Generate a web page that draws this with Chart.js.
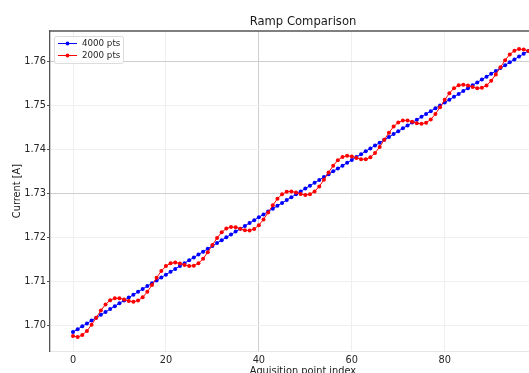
<!DOCTYPE html>
<html>
<head>
<meta charset="utf-8">
<title>Ramp Comparison</title>
<script src="https://cdn.jsdelivr.net/npm/chart.js@4.4.1/dist/chart.umd.min.js"></script>
<style>
    html, body { margin: 0; padding: 0; background: #ffffff; overflow: hidden; }
    #wrap { position: absolute; left: 0; top: 0; width: 560px; height: 390px; }
</style>
</head>
<body>
<div id="wrap"><canvas id="rampChart" width="560" height="390"></canvas></div>
<script>
// Données (index de point 0..99)
const current4000 = [
    1.69860, 1.69925, 1.69990, 1.70055, 1.70120, 1.70185, 1.70250, 1.70315, 1.70380, 1.70445,
    1.70510, 1.70575, 1.70640, 1.70705, 1.70770, 1.70835, 1.70900, 1.70965, 1.71030, 1.71095,
    1.71160, 1.71225, 1.71290, 1.71355, 1.71420, 1.71485, 1.71550, 1.71615, 1.71680, 1.71745,
    1.71810, 1.71875, 1.71940, 1.72005, 1.72070, 1.72135, 1.72200, 1.72265, 1.72330, 1.72395,
    1.72460, 1.72525, 1.72590, 1.72655, 1.72720, 1.72785, 1.72850, 1.72915, 1.72980, 1.73045,
    1.73110, 1.73175, 1.73240, 1.73305, 1.73370, 1.73435, 1.73500, 1.73565, 1.73630, 1.73695,
    1.73760, 1.73825, 1.73890, 1.73955, 1.74020, 1.74085, 1.74150, 1.74215, 1.74280, 1.74345,
    1.74410, 1.74475, 1.74540, 1.74605, 1.74670, 1.74735, 1.74800, 1.74865, 1.74930, 1.74995,
    1.75060, 1.75125, 1.75190, 1.75255, 1.75320, 1.75385, 1.75450, 1.75515, 1.75580, 1.75645,
    1.75710, 1.75775, 1.75840, 1.75905, 1.75970, 1.76035, 1.76100, 1.76165, 1.76230, 1.76295
];

const current2000 = [
    1.69770, 1.69745, 1.69790, 1.69885, 1.70023, 1.70185, 1.70347, 1.70485, 1.70580, 1.70625,
    1.70624, 1.70595, 1.70561, 1.70547, 1.70572, 1.70647, 1.70770, 1.70925, 1.71090, 1.71240,
    1.71354, 1.71419, 1.71435, 1.71415, 1.71380, 1.71355, 1.71362, 1.71417, 1.71522, 1.71666,
    1.71830, 1.71989, 1.72120, 1.72205, 1.72240, 1.72232, 1.72200, 1.72168, 1.72160, 1.72195,
    1.72280, 1.72411, 1.72570, 1.72734, 1.72878, 1.72983, 1.73038, 1.73045, 1.73020, 1.72985,
    1.72965, 1.72981, 1.73046, 1.73160, 1.73310, 1.73475, 1.73630, 1.73753, 1.73828, 1.73853,
    1.73839, 1.73805, 1.73776, 1.73775, 1.73820, 1.73915, 1.74053, 1.74215, 1.74377, 1.74515,
    1.74610, 1.74655, 1.74654, 1.74625, 1.74591, 1.74577, 1.74602, 1.74677, 1.74800, 1.74955,
    1.75120, 1.75270, 1.75384, 1.75449, 1.75465, 1.75445, 1.75410, 1.75385, 1.75392, 1.75447,
    1.75552, 1.75696, 1.75860, 1.76019, 1.76150, 1.76235, 1.76270, 1.76262, 1.76230, 1.76198
];

const seriesLabels = ['4000 pts', '2000 pts'];
const xTickValues = [0, 20, 40, 60, 80, 100];
const yTickValues = [1.70, 1.71, 1.72, 1.73, 1.74, 1.75, 1.76];

const toPoints = arr => arr.map((v, i) => ({ x: i, y: v }));

// Légende dessinée dans la zone du graphique + cadre du haut
const legendBox = {
    id: 'legendBox',
    afterDraw(chart) {
        const ctx = chart.ctx;
        const a = chart.chartArea;
        ctx.save();
        // cadre du haut
        ctx.strokeStyle = '#555555';
        ctx.lineWidth = 1.3;
        ctx.beginPath();
        ctx.moveTo(a.left, a.top);
        ctx.lineTo(a.right, a.top);
        ctx.stroke();

        const x = a.left + 4, y = a.top + 5, w = 69, h = 27;
        ctx.fillStyle = 'rgba(255,255,255,0.85)';
        ctx.strokeStyle = '#dcdcdc';
        ctx.lineWidth = 1;
        ctx.beginPath();
        ctx.roundRect(x + 0.5, y + 0.5, w, h, 2);
        ctx.fill();
        ctx.stroke();

        ctx.font = '8.7px "DejaVu Sans"';
        ctx.textBaseline = 'middle';
        ctx.textAlign = 'left';
        chart.data.datasets.forEach((ds, i) => {
            const ly = y + 7.5 + i * 12;
            ctx.strokeStyle = ds.borderColor;
            ctx.lineWidth = 1;
            ctx.beginPath();
            ctx.moveTo(x + 4, ly);
            ctx.lineTo(x + 23, ly);
            ctx.stroke();
            ctx.fillStyle = ds.borderColor;
            ctx.beginPath();
            ctx.arc(x + 13.5, ly, 1.9, 0, Math.PI * 2);
            ctx.fill();
            ctx.fillStyle = '#262626';
            ctx.fillText(ds.label, x + 28, ly + 0.5);
        });
        ctx.restore();
    }
};

const near = (a, b) => Math.abs(a - b) < 1e-6;

const ctx = document.getElementById('rampChart').getContext('2d');
const chart = new Chart(ctx, {
    type: 'line',
    data: {
        datasets: [
            {
                label: seriesLabels[0],
                data: toPoints(current4000),
                borderColor: '#0000ff',
                backgroundColor: '#0000ff',
                borderWidth: 1,
                pointRadius: 2,
                pointBorderWidth: 0,
                tension: 0,
                order: 2
            },
            {
                label: seriesLabels[1],
                data: toPoints(current2000),
                borderColor: '#ff0000',
                backgroundColor: '#ff0000',
                borderWidth: 1,
                pointRadius: 2,
                pointBorderWidth: 0,
                tension: 0,
                order: 1
            }
        ]
    },
    options: {
        responsive: false,
        animation: false,
        layout: { padding: { left: 0, right: 4, top: 0, bottom: 0 } },
        plugins: {
            legend: { display: false },
            tooltip: { enabled: false },
            title: {
                display: true,
                text: 'Ramp Comparison',
                fullSize: false,
                color: '#1a1a1a',
                font: { family: 'DejaVu Sans', size: 11.6, weight: 'normal' },
                padding: { top: 15.5, bottom: 1.6 }
            }
        },
        scales: {
            x: {
                type: 'linear',
                min: -4.95,
                max: 103.95,
                afterBuildTicks: s => { s.ticks = xTickValues.map(v => ({ value: v })); },
                afterFit: s => { s.height = 39; },
                ticks: {
                    color: '#262626',
                    font: { family: 'DejaVu Sans', size: 9.8 },
                    padding: 1,
                    maxRotation: 0,
                    callback: v => String(v)
                },
                grid: {
                    color: c => (c.tick && near(c.tick.value, 40)) ? '#cfcfcf' : '#efefef',
                    tickLength: 3,
                    tickColor: '#ffffff'
                },
                border: { color: '#e6e6e6', width: 1 },
                title: {
                    display: true,
                    text: 'Aquisition point index',
                    color: '#1a1a1a',
                    font: { family: 'DejaVu Sans', size: 9.8 },
                    padding: { top: 0, bottom: 13 }
                }
            },
            y: {
                type: 'linear',
                min: 1.6943,
                max: 1.7668,
                afterBuildTicks: s => { s.ticks = yTickValues.map(v => ({ value: v })); },
                afterFit: s => { s.width = 50; },
                ticks: {
                    color: '#262626',
                    font: { family: 'DejaVu Sans', size: 9.8 },
                    padding: 1,
                    callback: v => v.toFixed(2)
                },
                grid: {
                    color: c => (c.tick && (near(c.tick.value, 1.76) || near(c.tick.value, 1.73))) ? '#cfcfcf' : '#efefef',
                    tickLength: 3,
                    tickColor: '#555555'
                },
                border: { color: '#555555', width: 1.3 },
                title: {
                    display: true,
                    text: 'Current [A]',
                    color: '#1a1a1a',
                    font: { family: 'DejaVu Sans', size: 9.8 },
                    padding: { top: 12, bottom: 0 }
                }
            }
        }
    },
    plugins: [legendBox]
});
</script>
</body>
</html>
